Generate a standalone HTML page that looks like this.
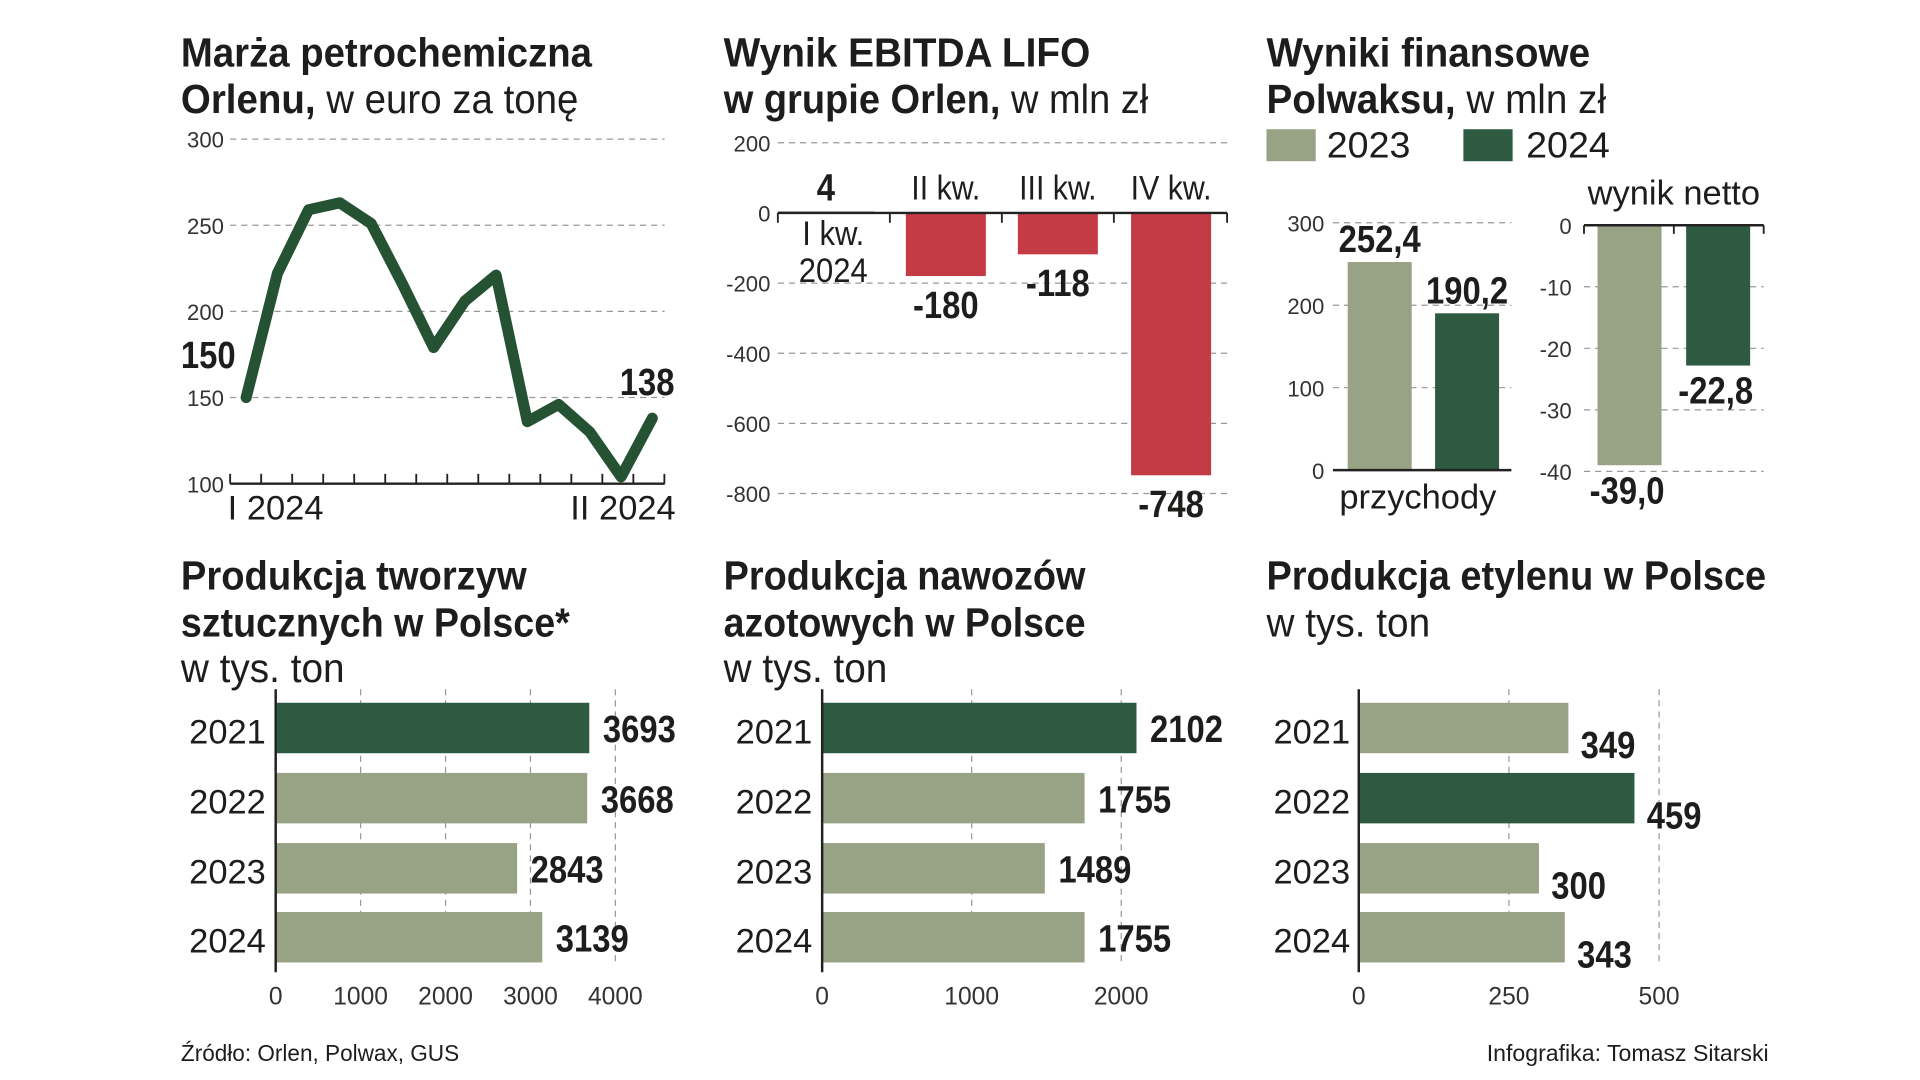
<!DOCTYPE html>
<html><head><meta charset="utf-8"><style>
html,body{margin:0;padding:0;background:#fff;width:1920px;height:1080px;overflow:hidden}
svg{display:block}
text{font-family:"Liberation Sans Narrow","Liberation Sans",sans-serif;fill:#1d1d1b}
.t{font-weight:bold;font-size:33px}
.tl{font-weight:normal;font-size:33px}
.ax{font-size:18px;fill:#333}
.yr{font-size:28px}
.v{font-weight:bold;font-size:31px}
.grid{stroke:#999;stroke-width:1;stroke-dasharray:5 4}
</style></head><body>
<svg id="s" width="1920" height="1080" viewBox="0 0 1560 877.5">
<g>
<text class="t" x="147" y="54" data-w="334">Marża petrochemiczna</text>
<text class="t" x="147" y="92" data-w="323">Orlenu,<tspan class="tl"> w euro za tonę</tspan></text></g>
<g>
<text class="t" x="588" y="54" data-w="298">Wynik EBITDA LIFO</text>
<text class="t" x="588" y="92" data-w="345">w grupie Orlen,<tspan class="tl"> w mln zł</tspan></text></g>
<g>
<text class="t" x="1029" y="54" data-w="263">Wyniki finansowe</text>
<text class="t" x="1029" y="92" data-w="276">Polwaksu,<tspan class="tl"> w mln zł</tspan></text></g>
<rect x="1029" y="105" width="40" height="26" fill="#98a285"/>
<text x="1078" y="128" style="font-size:29px" data-w="68">2023</text>
<rect x="1189" y="105" width="40" height="26" fill="#2d5a40"/>
<text x="1240" y="128" style="font-size:29px" data-w="68">2024</text>
<g>
<text class="t" x="147" y="479" data-w="281">Produkcja tworzyw</text>
<text class="t" x="147" y="517" data-w="316">sztucznych w Polsce*</text>
<text class="tl" x="147" y="554" data-w="133">w tys. ton</text></g>
<g>
<text class="t" x="588" y="479" data-w="294">Produkcja nawozów</text>
<text class="t" x="588" y="517" data-w="294">azotowych w Polsce</text>
<text class="tl" x="588" y="554" data-w="133">w tys. ton</text></g>
<g>
<text class="t" x="1029" y="479" data-w="406">Produkcja etylenu w Polsce</text>
<text class="tl" x="1029" y="517" data-w="133">w tys. ton</text></g>
<text x="147" y="862" style="font-size:19px" data-w="226">Źródło: Orlen, Polwax, GUS</text>
<text x="1208" y="862" style="font-size:19px" data-w="229">Infografika: Tomasz Sitarski</text>
</svg>
<script>
// line chart data
const marginValues=[150,222,259,263,251,216,179,206,221,136,146,130,104,138];
const marginTicks=[300,250,200,150,100];
// ebitda
const ebitdaCats=["I kw.","II kw.","III kw.","IV kw."];
const ebitdaValues=[4,-180,-118,-748];
const ebitdaLabels=["4","-180","-118","-748"];
const ebitdaTicks=[200,0,-200,-400,-600,-800];
// polwax
const revValues=[252.4,190.2];
const revLabels=["252,4","190,2"];
const revTicks=[300,200,100,0];
const netValues=[-39.0,-22.8];
const netLabels=["-39,0","-22,8"];
const netTicks=[0,-10,-20,-30,-40];
// bar charts
const years=["2021","2022","2023","2024"];
const plasticValues=[3693,3668,2843,3139];
const plasticTicks=[0,1000,2000,3000,4000];
const fertValues=[2102,1755,1489,1755];
const fertTicks=[0,1000,2000];
const ethValues=[349,459,300,343];
const ethTicks=[0,250,500];
const plasticHi=0, fertHi=0, ethHi=1;

const S=document.getElementById('s'),NS='http://www.w3.org/2000/svg';
function E(tag,attrs,txt){const e=document.createElementNS(NS,tag);for(const k in attrs)e.setAttribute(k,attrs[k]);if(txt!==undefined)e.textContent=txt;S.appendChild(e);return e;}
const DG='#2d5a40',LG='#98a285',RED='#c43a45';

// ---- line chart
(function(){
  const y=v=>393-(v-100)*1.4, x=i=>200+i*(330/(marginValues.length-1));
  marginTicks.forEach(t=>{
    if(t>100){const g=E('line',{x1:187,x2:540,y1:y(t),y2:y(t),class:'grid'});}
    const l=E('text',{x:182,y:y(t)+7,'text-anchor':'end',class:'ax'},t);
    
  });
  const ax=E('line',{x1:187,x2:540,y1:393,y2:393,stroke:'#222','stroke-width':2});
  
  for(let i=0;i<=14;i++){const tk=E('line',{x1:187+i*25.2,x2:187+i*25.2,y1:385,y2:393,stroke:'#222','stroke-width':1.5});}
  const p=E('polyline',{points:marginValues.map((v,i)=>x(i)+','+y(v)).join(' '),fill:'none',stroke:'#245232','stroke-width':9,'stroke-linejoin':'round','stroke-linecap':'round'});
  
  let t=E('text',{x:147,y:y(marginValues[0])-24,class:'v'},marginValues[0]);
  const n=marginValues.length-1;
  t=E('text',{x:548,y:y(marginValues[n])-19,'text-anchor':'end',class:'v'},marginValues[n]);
  t=E('text',{x:185,y:422,class:'yr'},'I 2024');
  t=E('text',{x:549,y:422,'text-anchor':'end',class:'yr'},'II 2024');
})();

// ---- ebitda
(function(){
  const y=v=>173-v*0.285;
  ebitdaTicks.forEach(t=>{
    const g=E('line',{x1:632,x2:997,y1:y(t),y2:y(t),class:'grid'});
    const l=E('text',{x:626,y:y(t)+7,'text-anchor':'end',class:'ax'},t);
  });
  const bx=[632,736,827,919],bw=[78,65,65,65];
  ebitdaValues.forEach((v,i)=>{
    const r=E('rect',{x:bx[i],width:bw[i],y:Math.min(y(v),y(0)),height:Math.max(Math.abs(y(v)-y(0)),2),fill:v>=0?DG:RED});
    
    const cx=bx[i]+bw[i]/2;
    const lb=E('text',{x:cx,y:v>=0?y(0)-10:y(v)+34,'text-anchor':'middle',class:'v'},ebitdaLabels[i]);
    
    if(i>0){const c=E('text',{x:cx,y:162,'text-anchor':'middle',class:'yr','data-sx':'0.88'},ebitdaCats[i]);}
  });
  let c=E('text',{x:677,y:199,'text-anchor':'middle',class:'yr','data-sx':'0.9'},ebitdaCats[0]);
  c=E('text',{x:677,y:229,'text-anchor':'middle',class:'yr','data-sx':'0.9'},'2024');
  const a=E('line',{x1:632,x2:997,y1:173,y2:173,stroke:'#222','stroke-width':2});
  [632,723,814,905,997].forEach(xx=>{const tk=E('line',{x1:xx,x2:xx,y1:173,y2:181,stroke:'#222','stroke-width':1.5});});
})();

// ---- polwax revenue
(function(){
  const y=v=>382-v*0.67;
  revTicks.forEach(t=>{
    if(t>0){const g=E('line',{x1:1083,x2:1228,y1:y(t),y2:y(t),class:'grid'});}
    const l=E('text',{x:1076,y:y(t)+7,'text-anchor':'end',class:'ax'},t);
  });
  const bx=[1095,1166];
  revValues.forEach((v,i)=>{
    const r=E('rect',{x:bx[i],width:52,y:y(v),height:y(0)-y(v),fill:i?DG:LG});
    const lb=E('text',{x:bx[i]+26,y:y(v)-8,'text-anchor':'middle',class:'v'},revLabels[i]);
  });
  const a=E('line',{x1:1083,x2:1228,y1:382,y2:382,stroke:'#222','stroke-width':2});
  const c=E('text',{x:1152,y:413,'text-anchor':'middle',class:'yr'},'przychody');
})();
// ---- polwax net
(function(){
  const y=v=>183-v*5;
  netTicks.forEach(t=>{
    if(t<0){const g=E('line',{x1:1287,x2:1433,y1:y(t),y2:y(t),class:'grid'});}
    const l=E('text',{x:1277,y:y(t)+7,'text-anchor':'end',class:'ax'},t);
  });
  const bx=[1298,1370];
  netValues.forEach((v,i)=>{
    const r=E('rect',{x:bx[i],width:52,y:y(0),height:y(v)-y(0),fill:i?DG:LG});
    const lb=E('text',{x:bx[i]+24,y:y(v)+31,'text-anchor':'middle',class:'v'},netLabels[i]);
  });
  const a=E('line',{x1:1287,x2:1433,y1:183,y2:183,stroke:'#222','stroke-width':2});
  [1287,1360,1433].forEach(xx=>{const tk=E('line',{x1:xx,x2:xx,y1:183,y2:190,stroke:'#222','stroke-width':1.5});});
  const c=E('text',{x:1360,y:166,'text-anchor':'middle',class:'yr'},'wynik netto');
})();

// ---- horizontal bar charts
function hbar(prefix,x0,labelX,scale,values,ticks,hi,below){
  const x=v=>x0+v*scale, rows=[591,648,705,761];
  ticks.forEach(t=>{
    if(t>0){const g=E('line',{x1:x(t),x2:x(t),y1:560,y2:785,class:'grid'});}
    const l=E('text',{x:x(t),y:816,'text-anchor':'middle',class:'ax',style:'font-size:20px'},t);
  });
  values.forEach((v,i)=>{
    const r=E('rect',{x:x0,y:rows[i]-20,height:41,width:x(v)-x0,fill:i===hi?DG:LG});
    const lb=E('text',{x:x(v)+(below?10:11),y:rows[i]+(below?25:12),class:'v'},v);
    const yl=E('text',{x:labelX,y:rows[i]+13,'text-anchor':'end',class:'yr'},years[i]);
  });
  const a=E('line',{x1:x0,x2:x0,y1:560,y2:790,stroke:'#222','stroke-width':2});
}
hbar('plastics',224,216,276/4000,plasticValues,plasticTicks,plasticHi,false);
hbar('fertilizer',668,660,243/2000,fertValues,fertTicks,fertHi,false);
hbar('ethylene',1104,1097,244/500,ethValues,ethTicks,ethHi,true);

// ---- condense text to mimic narrow typeface
function squeeze(el,f){
  const x=parseFloat(el.getAttribute('x'));
  el.setAttribute('transform','translate('+x+',0) scale('+f+',1) translate('+(-x)+',0)');
}
S.querySelectorAll('text[data-w]').forEach(el=>{
  const w=el.getComputedTextLength();
  if(w>0)squeeze(el,parseFloat(el.getAttribute('data-w'))/w);
});
S.querySelectorAll('text.v').forEach(el=>squeeze(el,0.86));
S.querySelectorAll('text[data-sx]').forEach(el=>squeeze(el,parseFloat(el.getAttribute('data-sx'))));
</script>
</body></html>
